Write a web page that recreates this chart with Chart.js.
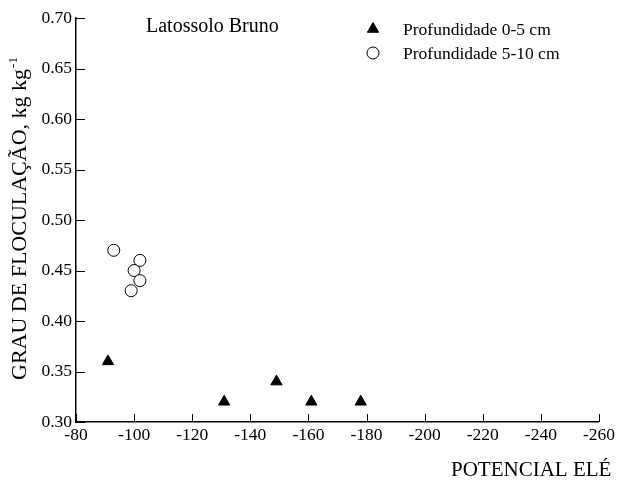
<!DOCTYPE html>
<html>
<head>
<meta charset="utf-8">
<script src="https://cdn.jsdelivr.net/npm/chart.js@4"></script>
<style>
  body { margin: 0; background: #fff; }
</style>
</head>
<body>
<canvas id="soilChart" width="618" height="480"></canvas>
<script>
// Latossolo Bruno: grau de floculacao vs potencial eletrico
const seriesLabels = ['Profundidade 0-5 cm', 'Profundidade 5-10 cm'];
const depth05X = [-91, -131, -149, -161, -178];
const depth05Y = [0.36, 0.32, 0.34, 0.32, 0.32];
const depth510X = [-93, -102, -100, -102, -99];
const depth510Y = [0.47, 0.46, 0.45, 0.44, 0.43];
const panelTitle = 'Latossolo Bruno';
const xTitle = 'POTENCIAL ELÉ';
const yTitle = 'GRAU DE FLOCULAÇÃO, kg kg';
const yTitleSup = '-1';

const serif = "'Liberation Serif', 'Times New Roman', serif";

function toPoints(xs, ys) {
  return xs.map((x, i) => ({x: x, y: ys[i]}));
}

// ticks inside the axes, titles and legend drawn by hand
const soilDecor = {
  id: 'soilDecor',
  beforeDatasetsDraw(chart) {
    const ctx = chart.ctx, area = chart.chartArea;
    const xs = chart.scales.x, ys = chart.scales.y;
    ctx.save();
    ctx.strokeStyle = '#000';
    ctx.lineWidth = 1;
    ctx.beginPath();
    xs.ticks.forEach(t => {
      const px = Math.round(xs.getPixelForValue(t.value)) + 0.5;
      ctx.moveTo(px, area.bottom);
      ctx.lineTo(px, area.bottom - 8);
    });
    ys.ticks.forEach(t => {
      const py = Math.round(ys.getPixelForValue(t.value)) + 0.5;
      ctx.moveTo(area.left, py);
      ctx.lineTo(area.left + 9, py);
    });
    ctx.stroke();
    ctx.restore();
  },
  afterDraw(chart) {
    const ctx = chart.ctx;
    ctx.save();
    ctx.fillStyle = '#000';
    ctx.textBaseline = 'alphabetic';
    ctx.textAlign = 'left';

    ctx.font = '20px ' + serif;
    ctx.fillText(panelTitle, 146, 31.5);

    ctx.font = '21px ' + serif;
    ctx.fillText(xTitle, 451, 476);

    // y title, rotated, with superscript
    ctx.save();
    ctx.translate(26, 380);
    ctx.rotate(-Math.PI / 2);
    ctx.font = '22px ' + serif;
    ctx.fillText(yTitle, 0, 0);
    const w = ctx.measureText(yTitle).width;
    ctx.font = '13px ' + serif;
    ctx.fillText(yTitleSup, w + 1, -9);
    ctx.restore();

    // legend
    chart.data.datasets.forEach((ds, i) => {
      const ly = 29 + i * 24;
      ctx.fillStyle = ds.backgroundColor;
      ctx.strokeStyle = ds.borderColor;
      ctx.lineWidth = ds.borderWidth;
      Chart.helpers.drawPoint(ctx, {
        pointStyle: ds.pointStyle,
        radius: ds.pointRadius,
        borderWidth: ds.borderWidth,
        rotation: 0
      }, 373, ly);
      ctx.fillStyle = '#000';
      ctx.font = '17.5px ' + serif;
      ctx.fillText(ds.label, 403, ly + 6);
    });
    ctx.restore();
  }
};

const soilChart = new Chart(document.getElementById('soilChart'), {
  type: 'scatter',
  data: {
    datasets: [
      {
        label: seriesLabels[0],
        data: toPoints(depth05X, depth05Y),
        pointStyle: 'triangle',
        pointRadius: 6.5,
        backgroundColor: '#000',
        borderColor: '#000',
        borderWidth: 1
      },
      {
        label: seriesLabels[1],
        data: toPoints(depth510X, depth510Y),
        pointStyle: 'circle',
        pointRadius: 6,
        backgroundColor: '#fff',
        borderColor: '#000',
        borderWidth: 1
      }
    ]
  },
  options: {
    responsive: false,
    animation: false,
    layout: {padding: {left: 0, top: 18, right: 17, bottom: 0}},
    plugins: {
      legend: {display: false},
      tooltip: {enabled: false}
    },
    scales: {
      x: {
        type: 'linear',
        reverse: true,
        min: -260,
        max: -80,
        ticks: {
          stepSize: 20,
          autoSkip: false,
          maxRotation: 0,
          color: '#000',
          padding: 3,
          font: {family: serif, size: 17.5}
        },
        grid: {drawOnChartArea: false, drawTicks: false},
        border: {color: '#000', width: 1.5},
        afterFit(scale) { scale.height = 58; }
      },
      y: {
        min: 0.3,
        max: 0.7,
        ticks: {
          stepSize: 0.05,
          color: '#000',
          padding: 4,
          font: {family: serif, size: 17.5},
          callback: v => v.toFixed(2)
        },
        grid: {drawOnChartArea: false, drawTicks: false},
        border: {color: '#000', width: 1.5},
        afterFit(scale) { scale.width = 76; }
      }
    }
  },
  plugins: [soilDecor]
});
</script>
</body>
</html>
